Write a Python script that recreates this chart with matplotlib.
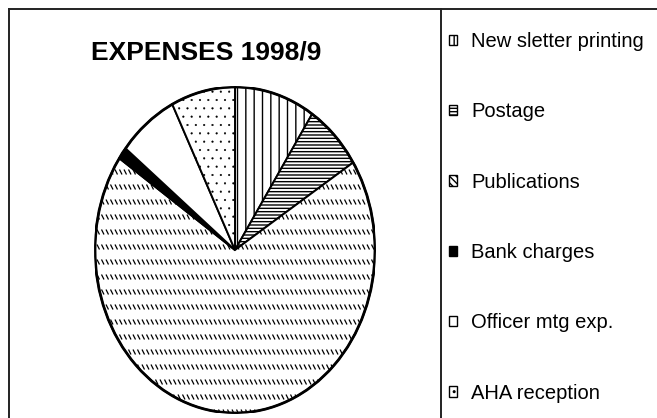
import matplotlib
matplotlib.use("Agg")
import numpy as np
import matplotlib.pyplot as plt
from matplotlib.collections import LineCollection
from matplotlib.lines import Line2D
from matplotlib.patches import Patch, Ellipse
from matplotlib.transforms import IdentityTransform

# Expenses 1998/9, share of total (%)
categories = ["New sletter printing", "Postage", "Publications",
              "Bank charges", "Officer mtg exp.", "AHA reception"]
shares = [9.3, 6.7, 68.6, 1.2, 6.9, 7.4]

# old-style monochrome fills
fills = ["white", "white", "white", "black", "white", "white"]
hatches = ["||", "-----", "", "", "", ".."]

plt.rcParams["font.family"] = ["Liberation Sans", "DejaVu Sans"]
plt.rcParams["hatch.linewidth"] = 1.0

fig = plt.figure(figsize=(6.57, 4.18), dpi=100)
ax = fig.add_axes([95 / 657, 5 / 418, 280 / 657, 326 / 418])

wedges, _ = ax.pie(shares, startangle=90, counterclock=False, colors=fills,
                   wedgeprops=dict(edgecolor="black", linewidth=1.4))
for w, h in zip(wedges, hatches):
    w.set_hatch(h)
# finer dots for the AHA slice
if hasattr(wedges[5], "set_hatch_linewidth"):
    wedges[5].set_hatch_linewidth(0.3)

# dotted-diagonal texture for the big slice (rows of short "\" ticks)
segs = []
for yrow in np.arange(6, 340, 15):
    for x0 in np.arange(88, 382, 4.5):
        segs.append([(x0, yrow + 2.5), (x0 + 2.5, yrow - 2.5)])
tex = LineCollection(segs, colors="black", linewidths=0.9,
                     transform=IdentityTransform())
ax.add_collection(tex, autolim=False)
tex.set_clip_path(wedges[2])

ax.add_patch(Ellipse((0, 0), 2, 2, fill=False, lw=2, ec="black"))
ax.set_aspect("auto")
ax.set_xlim(-1, 1)
ax.set_ylim(-1, 1)
ax.axis("off")

fig.text(206 / 657, 1 - 53 / 418, "EXPENSES 1998/9", ha="center", va="center",
         fontsize=19, fontweight="bold")

# frame lines of the chart area
for xs, ys in [((9, 657), (409, 409)), ((9, 9), (0, 409)), ((441, 441), (0, 409))]:
    fig.add_artist(Line2D([x / 657 for x in xs], [y / 418 for y in ys],
                          color="#222222", lw=1.4, transform=fig.transFigure))

handles = []
for i, w in enumerate(wedges):
    h = hatches[i] if i != 2 else "\\\\\\\\\\"
    handles.append(Patch(facecolor=fills[i], edgecolor="black", hatch=h, lw=1.0))

fig.legend(handles, categories, loc="upper left",
           bbox_to_anchor=(449 / 657, 1 - 32 / 418), frameon=False,
           fontsize=14.5, handlelength=0.4, handleheight=0.4,
           handletextpad=0.7, labelspacing=2.55, borderpad=0, borderaxespad=0)

fig.savefig("out.png", dpi=100)
